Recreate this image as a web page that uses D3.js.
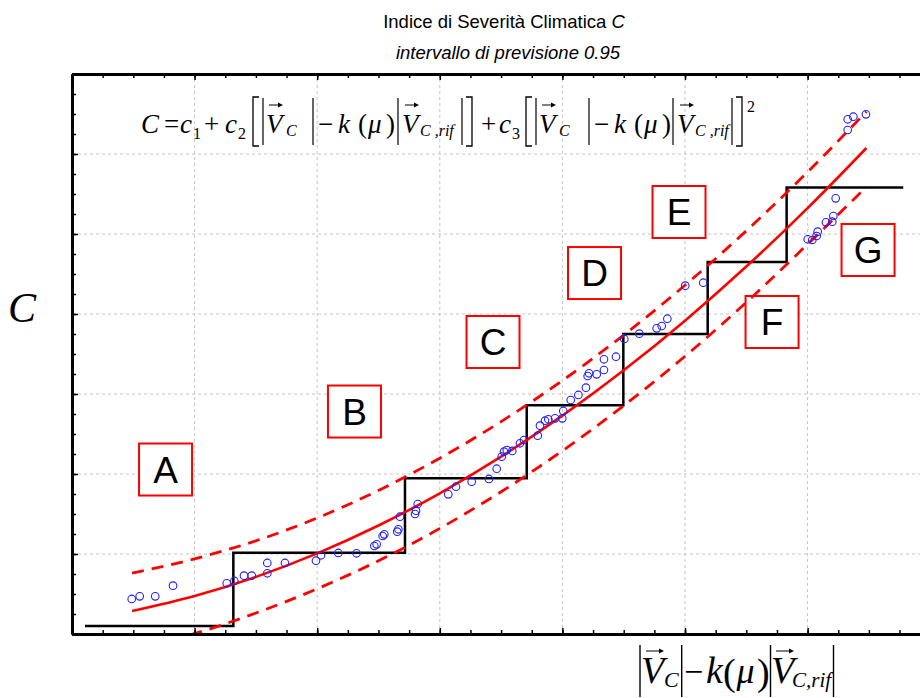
<!DOCTYPE html>
<html>
<head>
<meta charset="utf-8">
<script src="https://cdn.jsdelivr.net/npm/d3@7/dist/d3.min.js"></script>
<style>
  body { margin: 0; background: #fff; }
</style>
</head>
<body>
<div id="chart"></div>
<script>
var obsX = [0.487, 0.552, 0.679, 0.824, 1.262, 1.324, 1.403, 1.466, 1.593, 1.593,
            1.737, 1.990, 2.031, 2.172, 2.321, 2.466, 2.485, 2.534, 2.547, 2.653,
            2.662, 2.675, 2.798, 2.806, 2.820, 3.069, 3.132, 3.260, 3.401, 3.464,
            3.505, 3.524, 3.546, 3.591, 3.654, 3.687, 3.799, 3.817, 3.858, 3.885,
            3.940, 3.999, 4.007, 4.068, 4.130, 4.192, 4.206, 4.217, 4.280, 4.339,
            4.339, 4.437, 4.505, 4.627, 4.769, 4.810, 4.856, 5.002, 5.149, 6.001,
            6.038, 6.074, 6.082, 6.150, 6.201, 6.210, 6.229, 6.327, 6.327, 6.373,
            6.476];
var obsY = [0.438, 0.471, 0.471, 0.604, 0.634, 0.663, 0.729, 0.729, 0.759, 0.888,
            0.888, 0.916, 0.984, 1.013, 1.009, 1.100, 1.121, 1.225, 1.246, 1.279,
            1.309, 1.466, 1.500, 1.541, 1.625, 1.746, 1.841, 1.904, 1.938, 2.066,
            2.216, 2.279, 2.300, 2.288, 2.384, 2.425, 2.479, 2.604, 2.666, 2.684,
            2.696, 2.696, 2.788, 2.925, 2.988, 3.079, 3.225, 3.259, 3.246, 3.300,
            3.434, 3.466, 3.688, 3.754, 3.821, 3.850, 3.941, 4.354, 4.391, 4.934,
            4.925, 4.975, 5.029, 5.146, 5.154, 5.225, 5.446, 6.300, 6.434, 6.466,
            6.496];

// fitted curve and 0.95 prediction bounds
var fitX   = [0.49, 1.0, 1.5, 2.0, 2.5, 3.0, 3.5, 4.0, 4.5, 5.0, 5.5, 6.0, 6.48];
var fitY   = [0.287, 0.475, 0.714, 1.008, 1.356, 1.759, 2.217, 2.729, 3.296, 3.917, 4.593, 5.323, 6.075];
var upperY = [0.762, 0.940, 1.165, 1.450, 1.795, 2.198, 2.655, 3.168, 3.737, 4.360, 5.040, 5.775, 6.530];
var lowerY = [-0.190, 0.005, 0.262, 0.565, 0.915, 1.320, 1.778, 2.290, 2.855, 3.472, 4.146, 4.872, 5.590];

// class thresholds (staircase)
var stepX = [0.106, 1.316, 2.716, 3.709, 4.497, 5.185, 5.829, 6.78];
var stepY = [0.10, 1.016, 1.946, 2.86, 3.75, 4.65, 5.58, 5.58];

// class labels
var zoneNames = ['A', 'B', 'C', 'D', 'E', 'F', 'G'];
var zoneX = [0.763, 2.304, 3.434, 4.262, 4.951, 5.710, 6.493];
var zoneY = [2.056, 2.781, 3.650, 4.512, 5.275, 3.900, 4.800];

var majorTicks = [0, 1, 2, 3, 4, 5, 6, 7];
var minorTicks = d3.range(0, 7.01, 0.25);

var W = 920, H = 698;
var serif = "'Liberation Serif','Times New Roman',serif";
var sans = "'Liberation Sans',Arial,sans-serif";

var x = d3.scaleLinear().domain([0, 7]).range([72, 930.2]);
var y = d3.scaleLinear().domain([0, 7]).range([634, 74]);

var svg = d3.select('#chart')
  .append('svg')
  .attr('width', W)
  .attr('height', H)
  .style('display', 'block');

svg.append('clipPath')
  .attr('id', 'plotclip')
  .append('rect')
  .attr('x', x(0))
  .attr('y', y(7))
  .attr('width', W - x(0))
  .attr('height', y(0) - y(7));

// grid
svg.append('g')
  .selectAll('line')
  .data(majorTicks.slice(1, 7))
  .enter().append('line')
  .attr('x1', function (d) { return x(d); })
  .attr('x2', function (d) { return x(d); })
  .attr('y1', y(0))
  .attr('y2', y(7))
  .attr('stroke', '#c4c4c4')
  .attr('stroke-width', 1)
  .attr('stroke-dasharray', '3,3');

svg.append('g')
  .selectAll('line')
  .data(majorTicks.slice(1, 7))
  .enter().append('line')
  .attr('x1', x(0))
  .attr('x2', x(7))
  .attr('y1', function (d) { return y(d); })
  .attr('y2', function (d) { return y(d); })
  .attr('stroke', '#c4c4c4')
  .attr('stroke-width', 1)
  .attr('stroke-dasharray', '3,3');

// zone boxes
var zones = svg.append('g')
  .selectAll('g')
  .data(zoneNames)
  .enter().append('g')
  .attr('transform', function (d, i) { return 'translate(' + x(zoneX[i]) + ',' + y(zoneY[i]) + ')'; });

zones.append('rect')
  .attr('x', -26.5)
  .attr('y', -26)
  .attr('width', 53)
  .attr('height', 52)
  .attr('fill', '#fff')
  .attr('stroke', '#ff0000')
  .attr('stroke-width', 2);

zones.append('text')
  .attr('text-anchor', 'middle')
  .attr('y', 13)
  .attr('font-family', sans)
  .attr('font-size', 37)
  .attr('fill', '#000')
  .text(function (d) { return d; });

var plot = svg.append('g').attr('clip-path', 'url(#plotclip)');

// staircase
var stepPts = stepX.map(function (d, i) { return [d, stepY[i]]; });
plot.append('path')
  .datum(stepPts)
  .attr('fill', 'none')
  .attr('stroke', '#000')
  .attr('stroke-width', 2.5)
  .attr('d', d3.line()
    .x(function (d) { return x(d[0]); })
    .y(function (d) { return y(d[1]); })
    .curve(d3.curveStepAfter));

// fit + bounds
var curveLine = d3.line()
  .x(function (d) { return x(d[0]); })
  .y(function (d) { return y(d[1]); })
  .curve(d3.curveMonotoneX);

function pairs(ys) { return fitX.map(function (d, i) { return [d, ys[i]]; }); }

plot.append('path')
  .datum(pairs(upperY))
  .attr('fill', 'none')
  .attr('stroke', '#ff0000')
  .attr('stroke-width', 2.8)
  .attr('stroke-dasharray', '12,8')
  .attr('d', curveLine);

plot.append('path')
  .datum(pairs(lowerY))
  .attr('fill', 'none')
  .attr('stroke', '#ff0000')
  .attr('stroke-width', 2.8)
  .attr('stroke-dasharray', '12,8')
  .attr('d', curveLine);

plot.append('path')
  .datum(pairs(fitY))
  .attr('fill', 'none')
  .attr('stroke', '#ff0000')
  .attr('stroke-width', 2.6)
  .attr('d', curveLine);

// points
plot.append('g')
  .selectAll('circle')
  .data(obsX)
  .enter().append('circle')
  .attr('cx', function (d) { return x(d); })
  .attr('cy', function (d, i) { return y(obsY[i]); })
  .attr('r', 3.8)
  .attr('fill', 'none')
  .attr('stroke', '#1f1fff')
  .attr('stroke-width', 1.1);

// axes (ticks pointing inwards)
function styleAxis(g) {
  g.select('.domain').attr('stroke', '#000').attr('stroke-width', 3);
  g.selectAll('.tick line').attr('stroke', '#000').attr('stroke-width', 1.5);
}

var axes = [
  { gen: d3.axisBottom, sc: x, tr: 'translate(0,' + y(0) + ')' },
  { gen: d3.axisTop, sc: x, tr: 'translate(0,' + y(7) + ')' },
  { gen: d3.axisLeft, sc: y, tr: 'translate(' + x(0) + ',0)' }
];
axes.forEach(function (a) {
  svg.append('g')
    .attr('transform', a.tr)
    .call(a.gen(a.sc).tickValues(minorTicks).tickSize(-4).tickSizeOuter(0).tickFormat(''))
    .call(styleAxis);
  svg.append('g')
    .attr('transform', a.tr)
    .call(a.gen(a.sc).tickValues(majorTicks).tickSize(-6).tickSizeOuter(0).tickFormat(''))
    .call(styleAxis);
});

// title
var title = svg.append('text')
  .attr('x', 504)
  .attr('y', 28)
  .attr('text-anchor', 'middle')
  .attr('font-family', sans)
  .attr('font-size', 18.5)
  .attr('fill', '#000');
title.append('tspan').text('Indice di Severità Climatica ');
title.append('tspan').attr('font-style', 'italic').text('C');

svg.append('text')
  .attr('x', 508)
  .attr('y', 59)
  .attr('text-anchor', 'middle')
  .attr('font-family', sans)
  .attr('font-size', 18.5)
  .attr('font-style', 'italic')
  .attr('fill', '#000')
  .text('intervallo di previsione 0.95');

// y label
svg.append('text')
  .attr('x', 22)
  .attr('y', 322)
  .attr('text-anchor', 'middle')
  .attr('font-family', serif)
  .attr('font-size', 42)
  .attr('font-style', 'italic')
  .attr('fill', '#000')
  .text('C');

// helpers for the math text
function glyph(s, px, py, size, italic) {
  svg.append('text')
    .attr('x', px)
    .attr('y', py)
    .attr('font-family', serif)
    .attr('font-size', size)
    .attr('font-style', italic ? 'italic' : 'normal')
    .attr('fill', '#000')
    .text(s);
}
function vbar(px, y1, y2, sw) {
  svg.append('line')
    .attr('x1', px).attr('x2', px)
    .attr('y1', y1).attr('y2', y2)
    .attr('stroke', '#000').attr('stroke-width', sw);
}
function bracket(px, y1, y2, dir) {
  var s = 6 * dir;
  svg.append('path')
    .attr('d', 'M' + (px + s) + ',' + y1 + 'H' + px + 'V' + y2 + 'H' + (px + s))
    .attr('fill', 'none').attr('stroke', '#000').attr('stroke-width', 1.3);
}
function arrow(x1, x2, ay) {
  svg.append('line')
    .attr('x1', x1).attr('x2', x2 - 2)
    .attr('y1', ay).attr('y2', ay)
    .attr('stroke', '#000').attr('stroke-width', 1);
  svg.append('path')
    .attr('d', 'M' + x2 + ',' + ay + 'L' + (x2 - 5) + ',' + (ay - 2.5) + 'L' + (x2 - 5) + ',' + (ay + 2.5) + 'Z')
    .attr('fill', '#000');
}

// formula in the plot
var fb = 133, fs = 27, ss = 16, bt = 97, bb = 146;
glyph('C', 141, fb, fs, true);
glyph('=', 164, fb, fs, false);
glyph('c', 180, fb, fs, true);
glyph('1', 193, fb + 6, ss, false);
glyph('+', 204, fb, fs, false);
glyph('c', 225, fb, fs, true);
glyph('2', 238, fb + 6, ss, false);
[[253, 313, 398, 462], [526, 589, 673, 732]].forEach(function (p, k) {
  var o = p[0];
  bracket(o, bt, bb, 1);
  vbar(o + 10, bt + 1, bb - 1, 1.2);
  glyph('V', o + 13, fb, fs, true);
  arrow(o + 16, o + 30, 105);
  glyph('C', o + 33, fb + 3, ss, true);
  vbar(p[1], bt + 1, bb - 1, 1.2);
  glyph('\u2212', p[1] + 5, fb, fs, false);
  glyph('k', p[1] + 25, fb, fs, true);
  glyph('(', p[1] + 45, fb, fs, false);
  glyph('\u03bc', p[1] + 55, fb, fs, true);
  glyph(')', p[1] + 73, fb, fs, false);
  vbar(p[2], bt + 1, bb - 1, 1.2);
  glyph('V', p[2] + 4, fb, fs, true);
  arrow(p[2] + 7, p[2] + 21, 105);
  glyph('C ,rif', p[2] + 22, fb + 3, ss, true);
  vbar(p[3], bt + 1, bb - 1, 1.2);
  bracket(p[3] + 10, bt, bb, -1);
  if (k === 0) {
    glyph('+', 481, fb, fs, false);
    glyph('c', 499, fb, fs, true);
    glyph('3', 512, fb + 6, ss, false);
  }
});
glyph('2', 747, 112, ss, false);

// x label
var lb = 683;
vbar(640, 645, 697, 1.4);
glyph('V', 641, lb, 38, true);
arrow(646, 664, 651);
glyph('C', 664, lb + 4, 22, true);
vbar(681.7, 645, 697, 1.4);
glyph('\u2212', 684, lb, 34, false);
glyph('k', 706, lb, 38, true);
glyph('(', 723, lb + 2, 38, false);
glyph('\u03bc', 736.5, lb, 36, true);
glyph(')', 757, lb + 2, 38, false);
vbar(770.5, 645, 697, 1.4);
glyph('V', 771, lb, 38, true);
arrow(776, 794, 651);
glyph('C,rif', 792, lb + 4, 21, true);
vbar(833.5, 645, 697, 1.4);
</script>
</body>
</html>
